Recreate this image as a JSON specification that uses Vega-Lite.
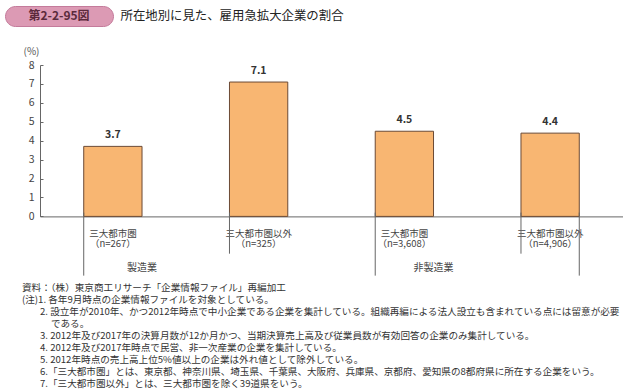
{
  "$schema": "https://vega.github.io/schema/vega-lite/v6.json",
  "background": "white",
  "padding": {"left": 4, "top": 5, "right": 0, "bottom": 0},
  "config": {
    "font": "Noto Sans CJK JP",
    "view": {"stroke": null},
    "axisY": {
      "grid": false,
      "tickSize": -3,
      "labelPadding": 9,
      "labelFontSize": 10.5,
      "labelColor": "#444",
      "domainColor": "#666",
      "tickColor": "#666",
      "titleAngle": 0,
      "titleX": -9,
      "titleY": -14,
      "titleAlign": "center",
      "titleBaseline": "middle",
      "titleFontSize": 10,
      "titleFontWeight": "normal",
      "titleColor": "#555"
    }
  },
  "datasets": {
    "bars": [
      {"id": "m1", "group": "製造業", "cat": "三大都市圏\n（n=267）", "value": 3.7},
      {"id": "m2", "group": "製造業", "cat": "三大都市圏以外\n（n=325）", "value": 7.1},
      {"id": "n1", "group": "非製造業", "cat": "三大都市圏\n（n=3,608）", "value": 4.5},
      {"id": "n2", "group": "非製造業", "cat": "三大都市圏以外\n（n=4,906）", "value": 4.4}
    ],
    "notes": [
      {"line": 1, "kind": "head", "text": "資料：（株）東京商工リサーチ「企業情報ファイル」再編加工"},
      {"line": 2, "kind": "head", "text": "(注)1. 各年9月時点の企業情報ファイルを対象としている。"},
      {"line": 3, "kind": "note", "text": "2. 設立年が2010年、かつ2012年時点で中小企業である企業を集計している。組織再編による法人設立も含まれている点には留意が必要"},
      {"line": 4, "kind": "cont", "text": "である。"},
      {"line": 5, "kind": "note", "text": "3. 2012年及び2017年の決算月数が12か月かつ、当期決算売上高及び従業員数が有効回答の企業のみ集計している。"},
      {"line": 6, "kind": "note", "text": "4. 2012年及び2017年時点で民営、非一次産業の企業を集計している。"},
      {"line": 7, "kind": "note", "text": "5. 2012年時点の売上高上位5%値以上の企業は外れ値として除外している。"},
      {"line": 8, "kind": "note", "text": "6.「三大都市圏」とは、東京都、神奈川県、埼玉県、千葉県、大阪府、兵庫県、京都府、愛知県の8都府県に所在する企業をいう。"},
      {"line": 9, "kind": "note", "text": "7.「三大都市圏以外」とは、三大都市圏を除く39道県をいう。"}
    ]
  },
  "spacing": 19,
  "vconcat": [
    {
      "hconcat": [
        {
          "width": 108,
          "height": 20,
          "view": {"fill": "#dc9ab4", "stroke": "#c47b9b", "cornerRadius": 10},
          "data": {"values": [{"t": "第2-2-95図"}]},
          "mark": {"type": "text", "fontWeight": "bold", "fontSize": 12, "color": "#5b2a3c", "baseline": "middle"},
          "encoding": {"text": {"field": "t", "type": "nominal"}}
        },
        {
          "width": 1,
          "height": 20,
          "data": {"values": [{"t": "所在地別に見た、雇用急拡大企業の割合"}]},
          "mark": {"type": "text", "align": "left", "baseline": "middle", "fontSize": 12.4, "color": "#222"},
          "encoding": {"text": {"field": "t", "type": "nominal"}}
        }
      ],
      "spacing": 6
    },
    {
      "spacing": 5,
      "vconcat": [
        {
          "spacing": 0,
          "hconcat": [
            {
              "width": 18,
              "height": 1,
              "data": {"values": []},
              "mark": "point",
              "encoding": {}
            },
            {
              "width": 583,
              "height": 151.4,
              "data": {"name": "bars"},
              "layer": [
                {
                  "mark": {"type": "bar", "fill": "#f8b672", "stroke": "#6b4a35", "strokeWidth": 1},
                  "encoding": {
                    "x": {
                      "field": "cat", "type": "nominal", "sort": null,
                      "scale": {"domain": ["三大都市圏\n（n=267）", "三大都市圏以外\n（n=325）", "三大都市圏\n（n=3,608）", "三大都市圏以外\n（n=4,906）"], "paddingInner": 0.6, "paddingOuter": 0.3},
                      "axis": {
                        "labelExpr": "split(datum.value, '\\n')",
                        "labelAngle": 0,
                        "labelPadding": 12,
                        "labelFontSize": 9.5,
                        "labelLineHeight": 10.5,
                        "labelColor": "#444",
                        "labelLimit": 0,
                        "ticks": false,
                        "domainColor": "#666",
                        "title": null
                      }
                    },
                    "y": {
                      "field": "value", "type": "quantitative",
                      "scale": {"domain": [0, 8], "nice": false},
                      "axis": {"values": [0, 1, 2, 3, 4, 5, 6, 7, 8], "title": "(%)"}
                    }
                  }
                },
                {
                  "mark": {"type": "text", "fontWeight": "bold", "fontSize": 10.5, "color": "#333", "baseline": "bottom", "dy": -6},
                  "encoding": {
                    "x": {"field": "cat", "type": "nominal", "sort": null, "scale": {"domain": ["三大都市圏\n（n=267）", "三大都市圏以外\n（n=325）", "三大都市圏\n（n=3,608）", "三大都市圏以外\n（n=4,906）"], "paddingInner": 0.6, "paddingOuter": 0.3}},
                    "y": {"field": "value", "type": "quantitative", "scale": {"domain": [0, 8], "nice": false}, "axis": {"values": [0, 1, 2, 3, 4, 5, 6, 7, 8], "title": "(%)"}},
                    "text": {"field": "value", "type": "quantitative", "format": ".1f"}
                  }
                },
                {
                  "transform": [{"filter": "datum.id == 'm2' || datum.id == 'n2'"}],
                  "mark": {"type": "rule", "color": "#666", "strokeWidth": 1},
                  "encoding": {
                    "x": {"field": "cat", "type": "nominal", "sort": null, "bandPosition": 0, "scale": {"domain": ["三大都市圏\n（n=267）", "三大都市圏以外\n（n=325）", "三大都市圏\n（n=3,608）", "三大都市圏以外\n（n=4,906）"], "paddingInner": 0.6, "paddingOuter": 0.3}},
                    "y": {"datum": 0.2, "type": "quantitative", "scale": {"domain": [0, 8], "nice": false}, "axis": {"values": [0, 1, 2, 3, 4, 5, 6, 7, 8], "title": "(%)"}},
                    "y2": {"datum": -1.97}
                  }
                },
                {
                  "transform": [{"filter": "datum.id == 'm1' || datum.id == 'n1'"}],
                  "mark": {"type": "rule", "color": "#666", "strokeWidth": 1},
                  "encoding": {
                    "x": {"field": "cat", "type": "nominal", "sort": null, "bandPosition": 0, "scale": {"domain": ["三大都市圏\n（n=267）", "三大都市圏以外\n（n=325）", "三大都市圏\n（n=3,608）", "三大都市圏以外\n（n=4,906）"], "paddingInner": 0.6, "paddingOuter": 0.3}},
                    "y": {"datum": 0.2, "type": "quantitative", "scale": {"domain": [0, 8], "nice": false}, "axis": {"values": [0, 1, 2, 3, 4, 5, 6, 7, 8], "title": "(%)"}},
                    "y2": {"datum": -3.13}
                  }
                },
                {
                  "transform": [{"filter": "datum.id == 'n2'"}],
                  "mark": {"type": "rule", "color": "#666", "strokeWidth": 1},
                  "encoding": {
                    "x": {"field": "cat", "type": "nominal", "sort": null, "bandPosition": 1, "scale": {"domain": ["三大都市圏\n（n=267）", "三大都市圏以外\n（n=325）", "三大都市圏\n（n=3,608）", "三大都市圏以外\n（n=4,906）"], "paddingInner": 0.6, "paddingOuter": 0.3}},
                    "y": {"datum": 0.2, "type": "quantitative", "scale": {"domain": [0, 8], "nice": false}, "axis": {"values": [0, 1, 2, 3, 4, 5, 6, 7, 8], "title": "(%)"}},
                    "y2": {"datum": -3.13}
                  }
                },
                {
                  "transform": [{"filter": "datum.id == 'm1' || datum.id == 'n1'"}],
                  "mark": {"type": "text", "fontSize": 10, "color": "#444", "baseline": "middle"},
                  "encoding": {
                    "x": {"field": "cat", "type": "nominal", "sort": null, "bandPosition": 1, "scale": {"domain": ["三大都市圏\n（n=267）", "三大都市圏以外\n（n=325）", "三大都市圏\n（n=3,608）", "三大都市圏以外\n（n=4,906）"], "paddingInner": 0.6, "paddingOuter": 0.3}},
                    "y": {"datum": -2.75, "type": "quantitative", "scale": {"domain": [0, 8], "nice": false}, "axis": {"values": [0, 1, 2, 3, 4, 5, 6, 7, 8], "title": "(%)"}},
                    "text": {"field": "group", "type": "nominal"}
                  }
                }
              ]
            }
          ]
        },
        {
          "width": 2,
          "height": {"step": 12},
          "data": {"name": "notes"},
          "encoding": {
            "y": {"field": "line", "type": "ordinal", "axis": null},
            "text": {"field": "text", "type": "nominal"}
          },
          "layer": [
            {
              "transform": [{"filter": "datum.kind == 'head'"}],
              "mark": {"type": "text", "align": "left", "baseline": "middle", "fontSize": 9.6, "color": "#333", "dx": 16}
            },
            {
              "transform": [{"filter": "datum.kind == 'note'"}],
              "mark": {"type": "text", "align": "left", "baseline": "middle", "fontSize": 9.6, "color": "#333", "dx": 34}
            },
            {
              "transform": [{"filter": "datum.kind == 'cont'"}],
              "mark": {"type": "text", "align": "left", "baseline": "middle", "fontSize": 9.6, "color": "#333", "dx": 45}
            }
          ]
        }
      ]
    }
  ]
}
